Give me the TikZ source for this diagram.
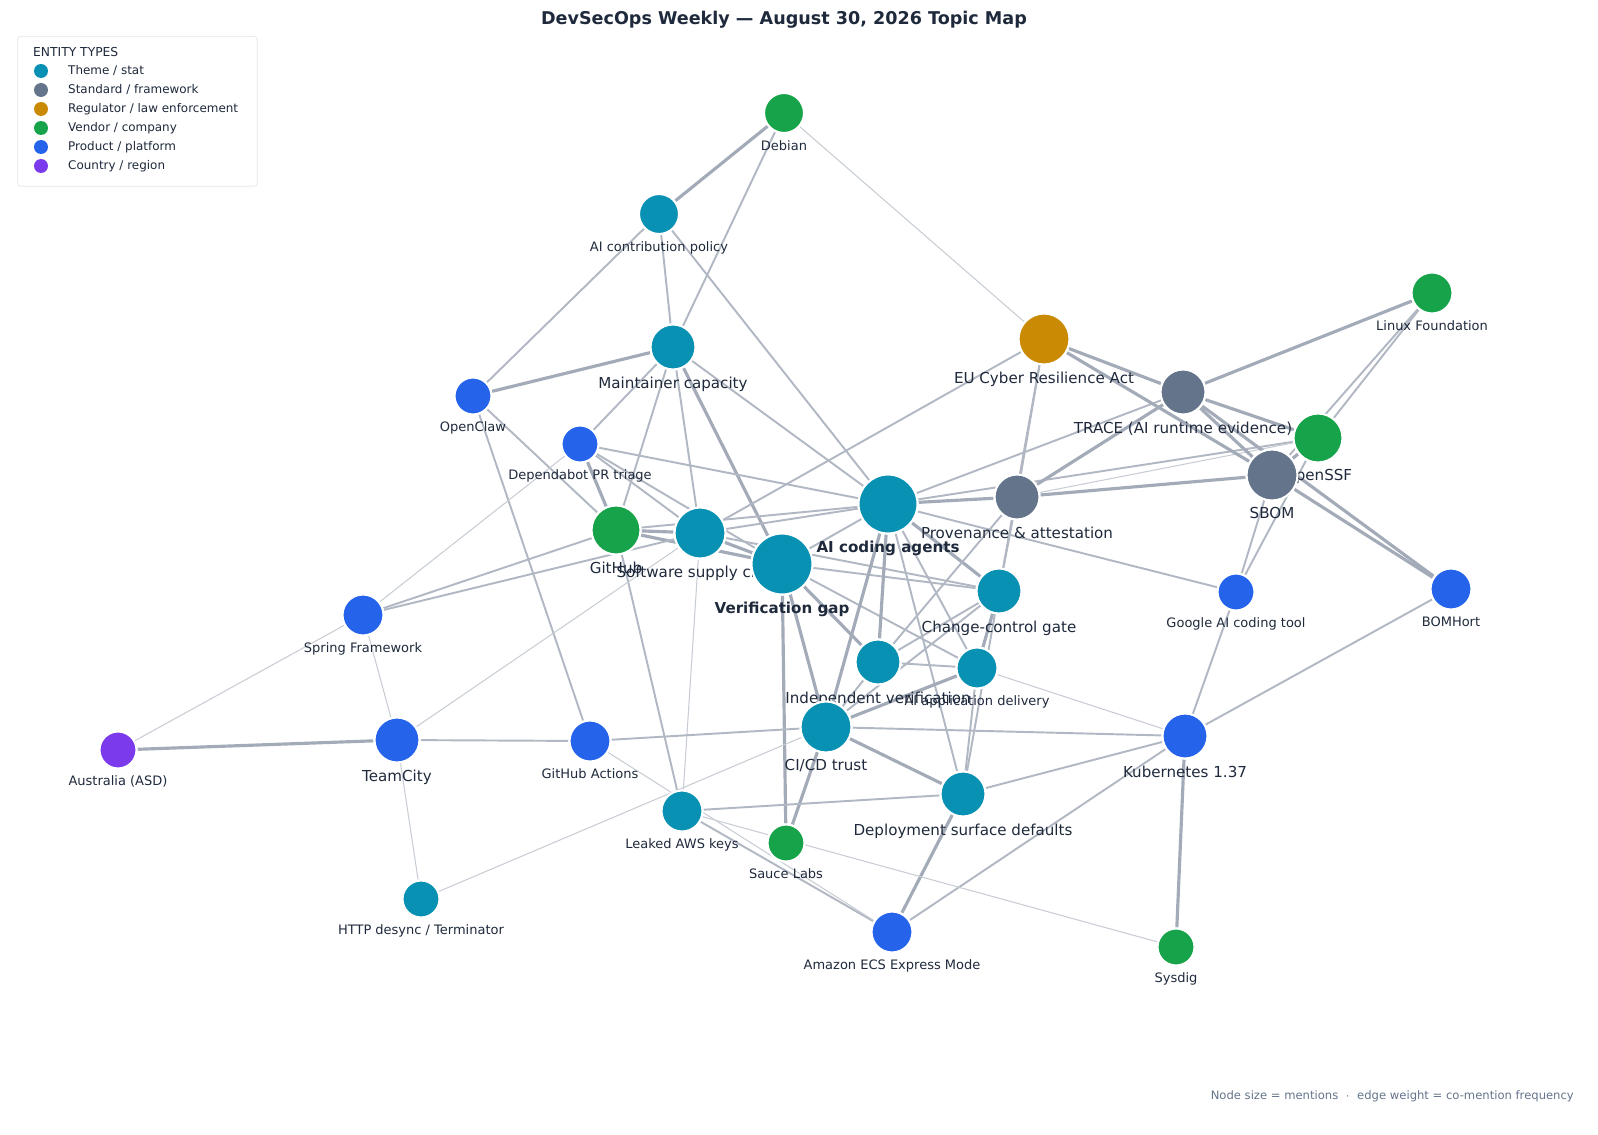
\documentclass[tikz,border=0pt]{standalone}
\usepackage{fontspec}
\setmainfont{DejaVu Sans}
\usetikzlibrary{positioning, backgrounds}
\definecolor{theme}{HTML}{0891B2}
\definecolor{standard}{HTML}{64748B}
\definecolor{regulator}{HTML}{CA8A04}
\definecolor{vendor}{HTML}{16A34A}
\definecolor{product}{HTML}{2563EB}
\definecolor{country}{HTML}{7C3AED}
\definecolor{edge}{HTML}{A3ABB8}
\definecolor{ink}{HTML}{1E293B}
\tikzset{
  ent/.style={circle, draw=white, line width=1.2pt, inner sep=0pt, label distance=2pt},
  lbl/.style={font=\fontsize{7.4}{8}\selectfont, text=ink},
  biglbl/.style={font=\fontsize{8.6}{9}\selectfont, text=ink},
  thin/.style={draw=edge!60, line width=0.6pt},
  mid/.style={draw=edge!85, line width=1.1pt},
  heavy/.style={draw=edge, line width=1.8pt}
}
\begin{document}
\begin{tikzpicture}[x=0.02cm, y=-0.02cm]
    \useasboundingbox (0,0) rectangle (1598,1135);
    \node[font=\bfseries\fontsize{10}{12}\selectfont, text=ink] (title) at (784,20) {DevSecOps Weekly — August 30, 2026 Topic Map};

    %Legend
    \node[draw=black!10, fill=white, rounded corners=2pt, minimum width=4.8cm, minimum height=3cm, anchor=north west] (legend) at (17,36) {};
    \node[font=\fontsize{7}{8}\selectfont, text=ink, anchor=west] (legtitle) at (27,52) {ENTITY TYPES};
    \foreach \c/\t [count=\i] in {theme/{Theme / stat}, standard/{Standard / framework}, regulator/{Regulator / law enforcement}, vendor/{Vendor / company}, product/{Product / platform}, country/{Country / region}}{
        \node[circle, fill=\c, minimum size=0.28cm, inner sep=0pt] (legdot\i) at (41,52+\i*19) {};
        \node[font=\fontsize{6.8}{8}\selectfont, text=ink, anchor=west] (legtext\i) at (62,52+\i*19) {\t};
    }

    %Nodes
    \node[ent, fill=vendor, minimum size=0.8cm, label={[lbl]below:Debian}] (debian) at (784,113) {};
    \node[ent, fill=theme, minimum size=0.8cm, label={[lbl]below:AI contribution policy}] (aipolicy) at (659,214) {};
    \node[ent, fill=theme, minimum size=0.9cm, label={[biglbl]below:Maintainer capacity}] (maint) at (673,347) {};
    \node[ent, fill=product, minimum size=0.74cm, label={[lbl]below:OpenClaw}] (openclaw) at (473,396) {};
    \node[ent, fill=product, minimum size=0.74cm, label={[lbl]below:Dependabot PR triage}] (dependabot) at (580,444) {};
    \node[ent, fill=vendor, minimum size=0.98cm, label={[biglbl]below:GitHub}] (github) at (616,530) {};
    \node[ent, fill=theme, minimum size=1.02cm, label={[biglbl]below:Software supply chain}] (ssc) at (700,533) {};
    \node[ent, fill=theme, minimum size=1.22cm, label={[biglbl, font=\bfseries\fontsize{8.6}{9}\selectfont]below:Verification gap}] (vgap) at (782,564) {};
    \node[ent, fill=theme, minimum size=1.18cm, label={[biglbl, font=\bfseries\fontsize{8.6}{9}\selectfont]below:AI coding agents}] (agents) at (888,504) {};
    \node[ent, fill=standard, minimum size=0.9cm, label={[biglbl]below:Provenance \& attestation}] (prov) at (1017,497) {};
    \node[ent, fill=regulator, minimum size=1.02cm, label={[biglbl]below:EU Cyber Resilience Act}] (cra) at (1044,339) {};
    \node[ent, fill=standard, minimum size=0.9cm, label={[biglbl]below:TRACE (AI runtime evidence)}] (trace) at (1183,392) {};
    \node[ent, fill=vendor, minimum size=0.98cm, label={[biglbl]below:OpenSSF}] (openssf) at (1318,438) {};
    \node[ent, fill=standard, minimum size=1.02cm, label={[biglbl]below:SBOM}] (sbom) at (1272,475) {};
    \node[ent, fill=vendor, minimum size=0.82cm, label={[lbl]below:Linux Foundation}] (linuxf) at (1432,293) {};
    \node[ent, fill=product, minimum size=0.82cm, label={[lbl]below:BOMHort}] (bomhort) at (1451,589) {};
    \node[ent, fill=product, minimum size=0.74cm, label={[lbl]below:Google AI coding tool}] (google) at (1236,592) {};
    \node[ent, fill=theme, minimum size=0.9cm, label={[biglbl]below:Change-control gate}] (gate) at (999,591) {};
    \node[ent, fill=theme, minimum size=0.9cm, label={[biglbl]below:Independent verification}] (indep) at (878,662) {};
    \node[ent, fill=theme, minimum size=0.82cm, label={[lbl]below:AI application delivery}] (aiapp) at (977,668) {};
    \node[ent, fill=theme, minimum size=1.02cm, label={[biglbl]below:CI/CD trust}] (cicd) at (826,727) {};
    \node[ent, fill=product, minimum size=0.9cm, label={[biglbl]below:Kubernetes 1.37}] (k8s) at (1185,736) {};
    \node[ent, fill=theme, minimum size=0.9cm, label={[biglbl]below:Deployment surface defaults}] (deploy) at (963,794) {};
    \node[ent, fill=vendor, minimum size=0.74cm, label={[lbl]below:Sauce Labs}] (sauce) at (786,843) {};
    \node[ent, fill=theme, minimum size=0.82cm, label={[lbl]below:Leaked AWS keys}] (awskeys) at (682,811) {};
    \node[ent, fill=product, minimum size=0.82cm, label={[lbl]below:Amazon ECS Express Mode}] (ecs) at (892,932) {};
    \node[ent, fill=vendor, minimum size=0.74cm, label={[lbl]below:Sysdig}] (sysdig) at (1176,947) {};
    \node[ent, fill=theme, minimum size=0.74cm, label={[lbl]below:HTTP desync / Terminator}] (desync) at (421,899) {};
    \node[ent, fill=product, minimum size=0.9cm, label={[biglbl]below:TeamCity}] (teamcity) at (397,740) {};
    \node[ent, fill=product, minimum size=0.82cm, label={[lbl]below:GitHub Actions}] (ghactions) at (590,741) {};
    \node[ent, fill=product, minimum size=0.82cm, label={[lbl]below:Spring Framework}] (spring) at (363,615) {};
    \node[ent, fill=country, minimum size=0.74cm, label={[lbl]below:Australia (ASD)}] (asd) at (118,750) {};

    \node[font=\fontsize{6.6}{8}\selectfont, text=standard, anchor=east] (footer) at (1580,1096) {Node size = mentions \ $\cdot$\ \ edge weight = co-mention frequency};

    %Lines
    \begin{scope}[on background layer]
    \draw[heavy] (debian) -- (aipolicy);
    \draw[mid] (debian) -- (maint);
    \draw[thin] (debian) -- (cra);
    \draw[mid] (aipolicy) -- (maint);
    \draw[mid] (aipolicy) -- (openclaw);
    \draw[mid] (aipolicy) -- (agents);
    \draw[heavy] (maint) -- (openclaw);
    \draw[mid] (maint) -- (dependabot);
    \draw[mid] (maint) -- (github);
    \draw[mid] (maint) -- (ssc);
    \draw[heavy] (maint) -- (vgap);
    \draw[mid] (maint) -- (agents);
    \draw[mid] (openclaw) -- (github);
    \draw[mid] (openclaw) -- (ghactions);
    \draw[heavy] (dependabot) -- (github);
    \draw[mid] (dependabot) -- (ssc);
    \draw[mid] (dependabot) -- (vgap);
    \draw[mid] (dependabot) -- (agents);
    \draw[thin] (dependabot) -- (spring);
    \draw[heavy] (github) -- (ssc);
    \draw[heavy] (github) -- (vgap);
    \draw[mid] (github) -- (agents);
    \draw[mid] (github) -- (spring);
    \draw[mid] (github) -- (awskeys);
    \draw[heavy] (ssc) -- (vgap);
    \draw[mid] (ssc) -- (agents);
    \draw[mid] (ssc) -- (spring);
    \draw[thin] (ssc) -- (teamcity);
    \draw[mid] (ssc) -- (cra);
    \draw[thin] (ssc) -- (awskeys);
    \draw[mid] (ssc) -- (gate);
    \draw[mid] (vgap) -- (agents);
    \draw[mid] (vgap) -- (gate);
    \draw[heavy] (vgap) -- (indep);
    \draw[heavy] (vgap) -- (cicd);
    \draw[heavy] (vgap) -- (sauce);
    \draw[mid] (vgap) -- (aiapp);
    \draw[heavy] (agents) -- (prov);
    \draw[mid] (agents) -- (trace);
    \draw[mid] (agents) -- (openssf);
    \draw[heavy] (agents) -- (gate);
    \draw[heavy] (agents) -- (indep);
    \draw[heavy] (agents) -- (cicd);
    \draw[mid] (agents) -- (aiapp);
    \draw[mid] (agents) -- (deploy);
    \draw[mid] (agents) -- (google);
    \draw[mid] (prov) -- (cra);
    \draw[heavy] (prov) -- (trace);
    \draw[heavy] (prov) -- (sbom);
    \draw[thin] (prov) -- (openssf);
    \draw[mid] (prov) -- (indep);
    \draw[mid] (prov) -- (gate);
    \draw[heavy] (cra) -- (trace);
    \draw[heavy] (cra) -- (sbom);
    \draw[mid] (cra) -- (gate);
    \draw[heavy] (trace) -- (linuxf);
    \draw[heavy] (trace) -- (openssf);
    \draw[heavy] (trace) -- (sbom);
    \draw[heavy] (trace) -- (bomhort);
    \draw[mid] (openssf) -- (linuxf);
    \draw[heavy] (openssf) -- (sbom);
    \draw[mid] (openssf) -- (google);
    \draw[mid] (sbom) -- (linuxf);
    \draw[heavy] (sbom) -- (bomhort);
    \draw[mid] (sbom) -- (google);
    \draw[mid] (bomhort) -- (k8s);
    \draw[mid] (google) -- (k8s);
    \draw[mid] (gate) -- (indep);
    \draw[heavy] (gate) -- (aiapp);
    \draw[mid] (gate) -- (cicd);
    \draw[mid] (gate) -- (deploy);
    \draw[mid] (indep) -- (cicd);
    \draw[mid] (indep) -- (aiapp);
    \draw[heavy] (aiapp) -- (cicd);
    \draw[mid] (aiapp) -- (deploy);
    \draw[thin] (aiapp) -- (k8s);
    \draw[mid] (cicd) -- (ghactions);
    \draw[mid] (cicd) -- (k8s);
    \draw[heavy] (cicd) -- (deploy);
    \draw[heavy] (cicd) -- (sauce);
    \draw[thin] (cicd) -- (desync);
    \draw[mid] (teamcity) -- (ghactions);
    \draw[heavy] (teamcity) -- (asd);
    \draw[thin] (teamcity) -- (spring);
    \draw[thin] (teamcity) -- (desync);
    \draw[thin] (spring) -- (asd);
    \draw[mid] (k8s) -- (deploy);
    \draw[mid] (k8s) -- (ecs);
    \draw[heavy] (k8s) -- (sysdig);
    \draw[mid] (deploy) -- (awskeys);
    \draw[heavy] (deploy) -- (ecs);
    \draw[mid] (awskeys) -- (ecs);
    \draw[thin] (awskeys) -- (sysdig);
    \draw[thin] (ghactions) -- (ecs);
    \end{scope}
\end{tikzpicture}
\end{document}
